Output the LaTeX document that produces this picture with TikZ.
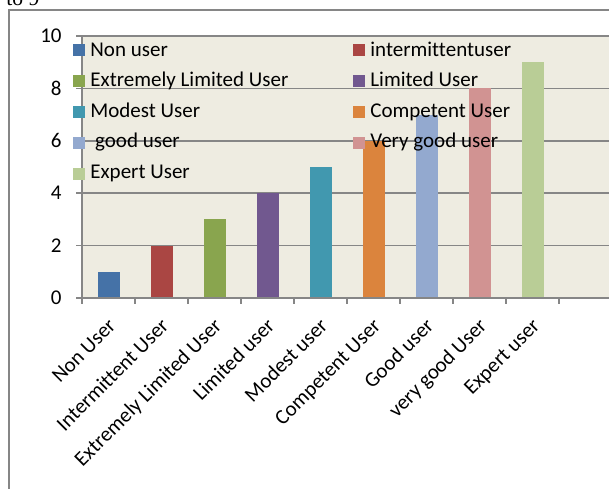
\documentclass[tikz,border=0pt]{standalone}
\usepackage{fontspec}
\setmainfont{Carlito}[Ligatures=NoCommon]
\newfontfamily\cutserif{Liberation Serif}
\usepackage{tikz}

\definecolor{plotbg}{HTML}{EEECE1}
\definecolor{gridgray}{HTML}{868686}
\definecolor{usrnon}{HTML}{4572A7}
\definecolor{usrint}{HTML}{AA4643}
\definecolor{usrext}{HTML}{89A54E}
\definecolor{usrlim}{HTML}{71588F}
\definecolor{usrmod}{HTML}{4198AF}
\definecolor{usrcom}{HTML}{DB843D}
\definecolor{usrgood}{HTML}{93A9CF}
\definecolor{usrvgood}{HTML}{D19392}
\definecolor{usrexp}{HTML}{B9CD96}

\tikzset{
  gridline/.style={gridgray,line width=0.85pt},
  legsq/.style={minimum size=6pt,inner sep=0,draw=none},
  lbl/.style={inner sep=0}
}

\begin{document}
\begin{tikzpicture}[x=0.5pt,y=-0.5pt,font=\fontsize{10.5}{12.6}\selectfont]
\useasboundingbox (0,0) rectangle (609,488);
\clip (0,0) rectangle (609,488);

% bottom of the line above the chart
\node[lbl,anchor=base west,font=\fontsize{10.8}{13}\cutserif] (cut) at (6,5) {to 9};

% chart area and plot area
\draw[gridgray,line width=0.75pt] (9,500) -- (9,10) -- (620,10);
\fill[plotbg] (82,36) rectangle (620,298);
\foreach \v in {0,2,...,10}
\draw[gridline] (76,298-26.2*\v) -- (620,298-26.2*\v);

% bars
\foreach \v/\col in {1/usrnon,2/usrint,3/usrext,4/usrlim,5/usrmod,6/usrcom,7/usrgood,8/usrvgood,9/usrexp}
\fill[\col] (82+53*\v-37.5,298) rectangle ++(22,-26.2*\v);

% axes and ticks
\draw[gridline] (82,36) -- (82,298) -- (620,298);
\foreach \c in {0,...,11}
\draw[gridline] (82+53*\c,298) -- ++(0,6);

\foreach \v in {0,2,...,10}
\node[lbl,anchor=east] (y\v) at (62,298-26.2*\v) {\v};

\foreach \lab [count=\c] in {Non User,Intermittent User,Extremely Limited User,Limited user,Modest user,Competent User,Good user,very good User,Expert user}
\node[lbl,anchor=base east,rotate=45] (x\c) at (82+53*\c-18,327) {\lab};

% legend
\foreach \lab/\col [count=\i] in {Non user/usrnon,intermittentuser/usrint,Extremely Limited User/usrext,Limited User/usrlim,Modest User/usrmod,Competent User/usrcom,\ good user/usrgood,Very good user/usrvgood,Expert User/usrexp}
{
\pgfmathtruncatemacro{\legcol}{mod(\i-1,2)}
\pgfmathtruncatemacro{\legrow}{(\i-1)/2}
\node[legsq,fill=\col] (k\i) at (79+280*\legcol,50+30.9*\legrow) {};
\node[lbl,anchor=base west] (t\i) at (90+280*\legcol,56+30.6*\legrow) {\lab};
}
\end{tikzpicture}
\end{document}
